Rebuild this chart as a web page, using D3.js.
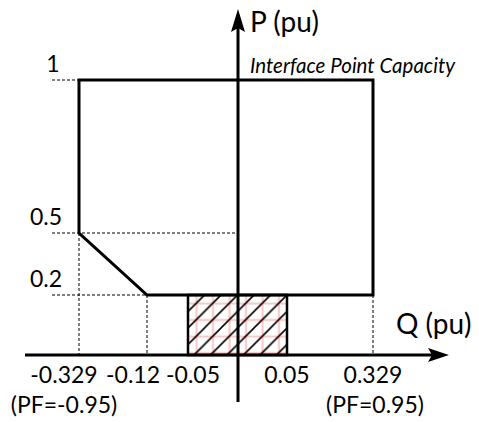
<!DOCTYPE html>
<html>
<head>
<meta charset="utf-8">
<script src="https://cdn.jsdelivr.net/npm/d3@7"></script>
<style>
  body { margin: 0; background: #fff; }
  text { font-family: Lato, "Open Sans", sans-serif; fill: #000; }
</style>
</head>
<body>
<svg id="chart-svg"></svg>
<script>
const qBreaks = [-0.329, -0.12, -0.05, 0, 0.05, 0.329];
const qTicks = [-0.329, -0.12, -0.05, 0.05, 0.329];
const qLabels = ["-0.329", "-0.12", "-0.05", "0.05", "0.329"];
const pBreaks = [0, 0.2, 0.5, 1];
const pTicks = [0.2, 0.5, 1];
const pLabels = ["0.2", "0.5", "1"];
const pfLabels = [
  { q: -0.329, text: "(PF=-0.95)" },
  { q: 0.329, text: "(PF=0.95)" },
];
// operating region boundary (Q, P)
const boundary = [
  [-0.329, 1],
  [0.329, 1],
  [0.329, 0.2],
  [-0.12, 0.2],
  [-0.329, 0.5],
];
const deadband = { q0: -0.05, q1: 0.05, p0: 0, p1: 0.2 };

const svgWidth = 479;
const svgHeight = 422;

const svg = d3
  .select("#chart-svg")
  .attr("width", svgWidth)
  .attr("height", svgHeight);

// diagram is not to scale, so piecewise scales
const x = d3.scaleLinear().domain(qBreaks).range([79, 147, 188, 238, 287, 373]);
const y = d3.scaleLinear().domain(pBreaks).range([355, 295, 233, 80]);

const defs = svg.append("defs");
const pat = defs
  .append("pattern")
  .attr("id", "hatch")
  .attr("patternUnits", "userSpaceOnUse")
  .attr("x", x(deadband.q0))
  .attr("y", y(deadband.p1))
  .attr("width", 16.5)
  .attr("height", 16.5);
pat.append("path")
  .attr("d", "M8.5,0V16.5M0,8.5H16.5")
  .attr("stroke", "#ffc4c4")
  .attr("stroke-width", 2);
pat.append("path")
  .attr("d", "M-4,20.5L20.5,-4M-4,4L4,-4M12.5,20.5L20.5,12.5")
  .attr("stroke", "#000")
  .attr("stroke-width", 1.6);

// dashed guides
const dash = svg.append("g")
  .attr("stroke", "#000")
  .attr("stroke-width", 1)
  .attr("stroke-dasharray", "3,2")
  .attr("fill", "none");
dash.append("line").attr("x1", 52).attr("x2", x(-0.329)).attr("y1", y(1)).attr("y2", y(1));
dash.append("line").attr("x1", 52).attr("x2", x(0)).attr("y1", y(0.5)).attr("y2", y(0.5));
dash.append("line").attr("x1", 52).attr("x2", x(-0.12)).attr("y1", y(0.2)).attr("y2", y(0.2));
dash.append("line").attr("x1", x(-0.329)).attr("x2", x(-0.329)).attr("y1", y(0.5)).attr("y2", y(0));
dash.append("line").attr("x1", x(-0.12)).attr("x2", x(-0.12)).attr("y1", y(0.2)).attr("y2", y(0));
dash.append("line").attr("x1", x(0.329)).attr("x2", x(0.329)).attr("y1", y(0.2)).attr("y2", y(0));

// hatched deadband
svg.append("rect")
  .attr("x", x(deadband.q0))
  .attr("y", y(deadband.p1))
  .attr("width", x(deadband.q1) - x(deadband.q0))
  .attr("height", y(deadband.p0) - y(deadband.p1))
  .attr("fill", "url(#hatch)")
  .attr("stroke", "#000")
  .attr("stroke-width", 2.5);

// boundary
svg.append("path")
  .attr("d", d3.line().x((d) => x(d[0])).y((d) => y(d[1]))(boundary) + "Z")
  .attr("fill", "none")
  .attr("stroke", "#000")
  .attr("stroke-width", 3)
  .attr("stroke-linejoin", "miter");

// axes
const x0 = x(0);
const y0 = y(0);
svg.append("line")
  .attr("x1", 25).attr("x2", 434).attr("y1", y0).attr("y2", y0)
  .attr("stroke", "#000").attr("stroke-width", 3);
svg.append("path")
  .attr("d", `M449,${y0}L428,${y0 - 7}L432,${y0}L428,${y0 + 7}Z`)
  .attr("fill", "#000");
svg.append("line")
  .attr("x1", x0).attr("x2", x0).attr("y1", 402).attr("y2", 24)
  .attr("stroke", "#000").attr("stroke-width", 3);
svg.append("path")
  .attr("d", `M${x0},9L${x0 - 7},32L${x0},28L${x0 + 7},32Z`)
  .attr("fill", "#000");

svg.append("text").attr("x", 250).attr("y", 32).attr("font-size", 28).text("P (pu)");
svg.append("text").attr("x", 396).attr("y", 334).attr("font-size", 28).text("Q (pu)");
svg.append("text")
  .attr("x", 250).attr("y", 73)
  .attr("font-size", 20.5).attr("font-style", "italic")
  .text("Interface Point Capacity");

// tick labels
const qCenters = [64, 133, 193, 287, 373];
svg.selectAll(".qlab")
  .data(qTicks)
  .join("text")
  .attr("class", "qlab")
  .attr("x", (d, i) => x(d) + (qCenters[i] - x(d)))
  .attr("y", 383)
  .attr("font-size", 23)
  .attr("text-anchor", "middle")
  .text((d, i) => qLabels[i]);

svg.selectAll(".pflab")
  .data(pfLabels)
  .join("text")
  .attr("class", "pflab")
  .attr("x", (d) => (d.q < 0 ? x(d.q) - 15 : x(d.q) + 2))
  .attr("y", 413)
  .attr("font-size", 23)
  .attr("text-anchor", "middle")
  .text((d) => d.text);

svg.selectAll(".plab")
  .data(pTicks)
  .join("text")
  .attr("class", "plab")
  .attr("x", (d) => (d === 1 ? 53 : 46))
  .attr("y", (d) => y(d) - 8)
  .attr("font-size", 23)
  .attr("text-anchor", "middle")
  .text((d, i) => pLabels[i]);
</script>
</body>
</html>
